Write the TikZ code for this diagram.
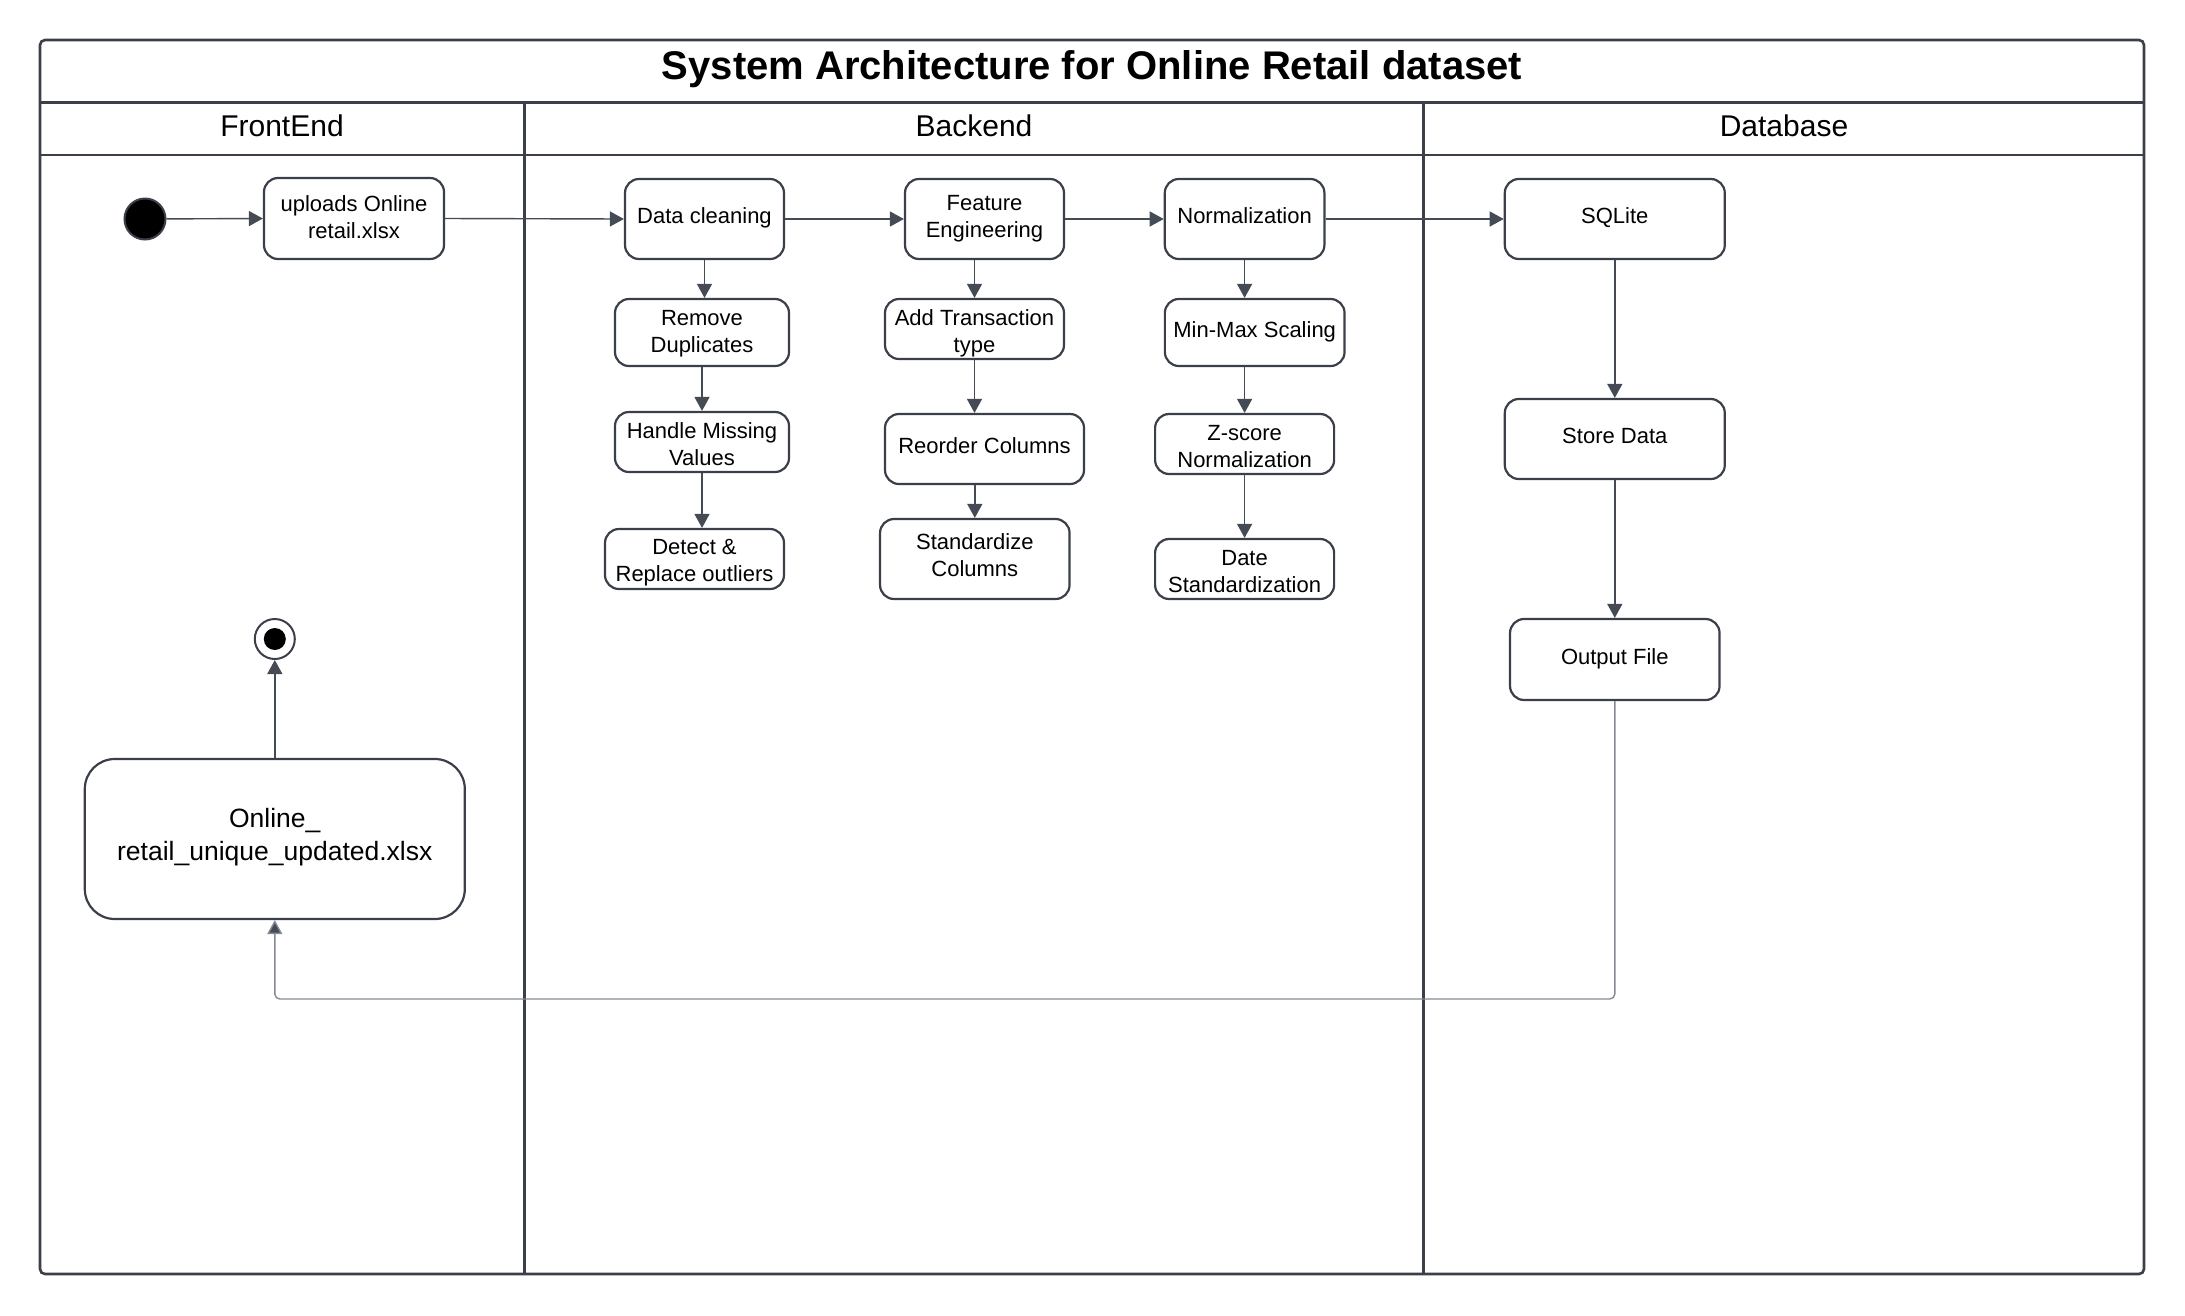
\documentclass[tikz,border=0pt]{standalone}
\usepackage{fontspec}
\setmainfont{Liberation Sans}
\usetikzlibrary{arrows.meta}
\definecolor{frameC}{HTML}{3A3F49}
\definecolor{lineC}{HTML}{454B55}
\definecolor{fbC}{HTML}{858A93}
\newcommand\toprl[1]{\rule{0pt}{#1pt}}
\newcommand\botrl[1]{\rule[-#1pt]{0pt}{#1pt}}
\tikzset{
  box/.style={draw=frameC, line width=2.2pt, rounded corners=14pt, align=center,
    inner xsep=2pt, inner ysep=0pt, font=\fontsize{22}{27}\selectfont},
  arr/.style={draw=lineC, line width=1.4pt, -{Triangle[length=14pt,width=15pt,fill=lineC]}},
  lane/.style={draw=frameC, line width=2.6pt},
  hdr/.style={font=\fontsize{30}{36}\selectfont},
}
\begin{document}
\begin{tikzpicture}[x=1pt,y=-1pt]
\useasboundingbox (0,0) rectangle (2185,1315);
% frame and lanes
\draw[lane, rounded corners=5pt] (40,40) rectangle (2144,1274);
\draw[lane] (40,102.5) -- (2144,102.5);
\draw[lane] (40,155) -- (2144,155);
\draw[lane] (524.5,102.5) -- (524.5,1274);
\draw[lane] (1423.5,102.5) -- (1423.5,1274);
\node[font=\bfseries\fontsize{40}{48}\selectfont] (title) at (1092,69) {System Architecture for Online Retail dataset};
\node[hdr] (hfe) at (282,125.5) {FrontEnd};
\node[hdr] (hbe) at (974,125.5) {Backend};
\node[hdr] (hdb) at (1784,125.5) {Database};

% frontend
\node[circle, draw=frameC, line width=2pt, fill=black, minimum size=41pt, inner sep=0pt] (start) at (145,219) {};
\node[box, minimum width=180pt, minimum height=81pt] (up) at (354,218.5) {\toprl{18}uploads Online\\retail.xlsx\botrl{5}};
\node[box, rounded corners=30pt, minimum width=380pt, minimum height=160pt, font=\fontsize{26.5}{33}\selectfont] (out) at (274.8,839) {\toprl{20}Online\_\\retail\_unique\_updated.xlsx\botrl{9.6}};
\node[circle, draw=frameC, line width=2pt, minimum size=40pt, inner sep=0pt,
  path picture={\fill[black] (path picture bounding box.center) circle (11pt);}] (end) at (274.8,639) {};

% backend
\node[box, minimum width=159pt, minimum height=80pt] (dc) at (704.5,219) {\toprl{17}Data cleaning\botrl{8}};
\node[box, minimum width=174pt, minimum height=67pt] (rd) at (702,332.5) {\toprl{17}Remove\\Duplicates\botrl{5}};
\node[box, minimum width=174pt, minimum height=60pt] (hm) at (702,442) {\toprl{24.6}Handle Missing\\Values\botrl{5}};
\node[box, minimum width=179pt, minimum height=60pt] (dr) at (694.5,559) {\toprl{22.6}Detect \&\\Replace outliers\botrl{5}};

\node[box, minimum width=159pt, minimum height=80pt] (fe) at (984.5,219) {\toprl{16}Feature\\Engineering\botrl{7}};
\node[box, minimum width=179pt, minimum height=60pt] (at) at (974.5,329) {\toprl{24}Add Transaction\\type\botrl{5}};
\node[box, minimum width=199pt, minimum height=70pt] (rc) at (984.5,449) {\toprl{17}Reorder Columns\botrl{8}};
\node[box, minimum width=189.5pt, minimum height=80pt] (sc) at (974.8,559) {\toprl{16}Standardize\\Columns\botrl{8.4}};

\node[box, minimum width=159.6pt, minimum height=80pt] (no) at (1244.6,219) {\toprl{17}Normalization\botrl{8}};
\node[box, minimum width=179.7pt, minimum height=67pt] (mm) at (1254.7,332.5) {\toprl{17}Min-Max Scaling\botrl{8}};
\node[box, minimum width=179pt, minimum height=60pt] (zs) at (1244.6,444) {\toprl{24}Z-score\\Normalization\botrl{5}};
\node[box, minimum width=179pt, minimum height=60pt] (ds) at (1244.6,569) {\toprl{24}Date\\Standardization\botrl{5}};

% database
\node[box, minimum width=220pt, minimum height=80pt] (sq) at (1614.8,219) {\toprl{17}SQLite\botrl{8}};
\node[box, minimum width=220pt, minimum height=80pt] (sd) at (1614.8,439) {\toprl{17}Store Data\botrl{8}};
\node[box, minimum width=209.5pt, minimum height=81pt] (of) at (1614.8,659.5) {\toprl{17}Output File\botrl{8}};

% connectors
\draw[arr] (start) -- (up.west);
\draw[arr] (up.east) -- (dc.west);
\draw[arr] (dc.east) -- (fe.west);
\draw[arr] (fe.east) -- (no.west);
\draw[arr] (no.east) -- (sq.west);

\draw[arr] (dc.south) -- (dc.south |- rd.north);
\draw[arr] (rd.south) -- (hm.north);
\draw[arr] (hm.south) -- (hm.south |- dr.north);

\draw[arr] (at.north |- fe.south) -- (at.north);
\draw[arr] (at.south) -- (at.south |- rc.north);
\draw[arr] (sc.north |- rc.south) -- (sc.north);

\draw[arr] (no.south) -- (no.south |- mm.north);
\draw[arr] (no.south |- mm.south) -- (zs.north);
\draw[arr] (zs.south) -- (ds.north);

\draw[arr] (sq.south) -- (sd.north);
\draw[arr] (sd.south) -- (of.north);

\coordinate (fb) at (274.8,999);
\draw[arr, draw=fbC, rounded corners=5pt] (of.south) |- (fb) -- (out.south);
\draw[arr] (out.north) -- (end.south);
\end{tikzpicture}
\end{document}
